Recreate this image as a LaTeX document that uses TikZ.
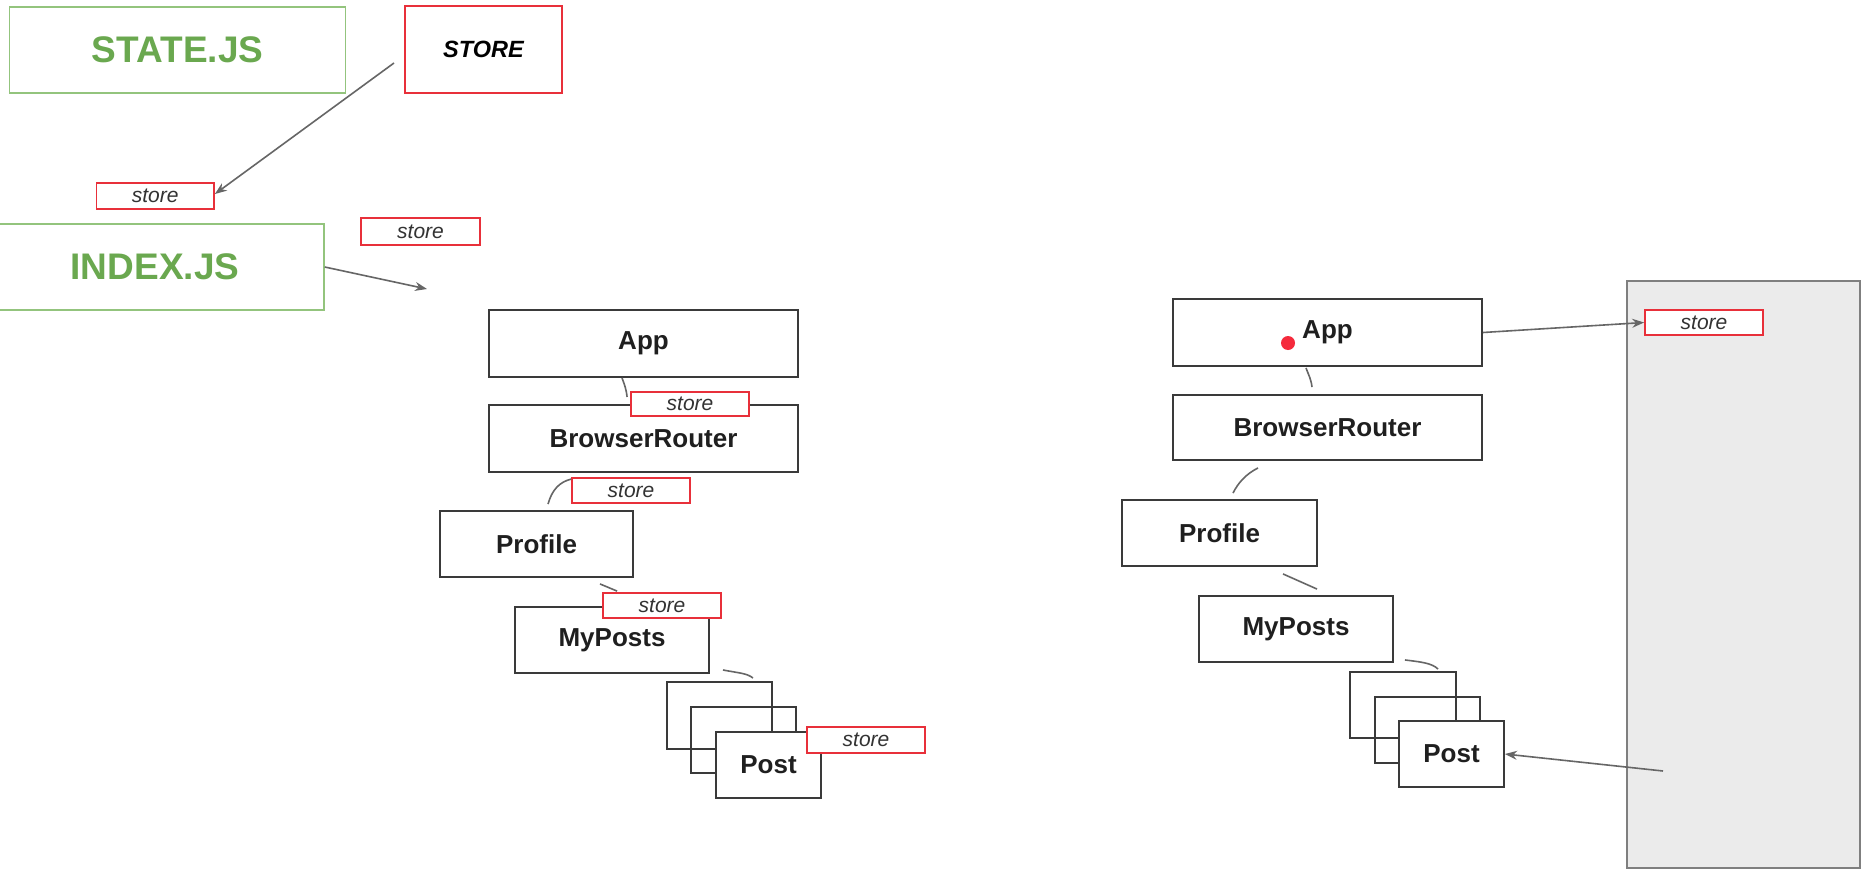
\documentclass[tikz,border=0pt]{standalone}
\usepackage{fontspec}
\setmainfont{Liberation Sans}
\usetikzlibrary{arrows.meta}
\definecolor{gtext}{HTML}{6AA84F}
\definecolor{gbord}{HTML}{93C47D}
\definecolor{rbord}{HTML}{E8303A}
\definecolor{dkline}{HTML}{3A3A3A}
\definecolor{cline}{HTML}{666666}
\definecolor{panel}{HTML}{EBEBEB}
\definecolor{pborder}{HTML}{7F7F7F}
\definecolor{dotred}{HTML}{F52A3C}
\tikzset{
  comp/.style={draw=dkline, line width=1.9pt, fill=white, inner sep=0pt,
    font=\fontsize{26}{30}\selectfont\bfseries, text=black!88},
  stackbox/.style={draw=dkline, line width=1.9pt, inner sep=0pt,
    minimum width=105pt, minimum height=66pt},
  storebox/.style={draw=rbord, line width=1.8pt, fill=white, inner sep=0pt,
    minimum width=118pt, minimum height=25pt,
    font=\fontsize{21}{24}\selectfont\itshape, text=black!80},
  jsbox/.style={draw=gbord, line width=1.5pt, inner sep=0pt, text=gtext,
    font=\fontsize{37}{42}\selectfont\bfseries},
  link/.style={draw=cline, line width=1.6pt},
  arr/.style={draw=cline, line width=1.6pt, -{Stealth[length=12pt,width=9pt]}}
}
\begin{document}
\begin{tikzpicture}[x=1pt,y=-1pt]
\useasboundingbox[fill=white] (0,0) rectangle (1870,889);

% ---------- top left ----------
\node[jsbox, minimum width=336pt, minimum height=86pt] (statejs) at (177.6,50) {STATE.JS};
\node[draw=rbord, line width=1.8pt, inner sep=0pt, minimum width=157pt, minimum height=87pt,
      font=\fontsize{23.5}{28}\selectfont\bfseries\itshape] (storebig) at (483.5,49.5) {STORE};
\node[storebox, minimum width=117.6pt, minimum height=26pt] (store1) at (155.2,196) {store};
\node[jsbox, minimum width=338pt, minimum height=86pt] (indexjs) at (155,267) {INDEX.JS};
\node[storebox, minimum width=119pt, minimum height=27pt] (store2) at (420.5,231.5) {store};

\coordinate (a1s) at (394,63);
\coordinate (a2e) at (427,289);
\draw[arr] (a1s) -- ([yshift=2pt]store1.east);
\draw[arr] (indexjs.east) -- (a2e);

% ---------- left tree ----------
\node[comp, minimum width=309pt, minimum height=67pt] (appL) at (643.5,343.5) {App};
\node[comp, minimum width=309pt, minimum height=67pt] (brL) at (643.5,438.5) {BrowserRouter};
\node[storebox, minimum height=24pt] (store3) at (690,404) {store};
\node[storebox] (store4) at (631,490.5) {store};
\node[comp, minimum width=193pt, minimum height=66pt] (profL) at (536.5,544) {Profile};
\node[comp, minimum width=194pt, minimum height=66pt] (mypL) at (612,640) {MyPosts};
\node[storebox] (store5) at (662,605.5) {store};
\node[stackbox, minimum height=67pt] (postL1) at (719.5,715.5) {};
\node[stackbox] (postL2) at (743.5,740) {};
\node[comp, minimum width=105pt, minimum height=66pt] (postL3) at (768.5,765) {Post};
\node[storebox, minimum height=26pt] (store6) at (866,740) {store};

\draw[link] ([xshift=-21.5pt]appL.south) .. controls +(3,8) and +(-1,-8) .. ([xshift=-3pt,yshift=7pt]store3.west);
\draw[link] ([xshift=11.5pt,yshift=6pt]profL.north) .. controls +(4,-14) and +(-12,3) .. ([yshift=-2pt]store4.north west);
\draw[link] ([xshift=63.5pt,yshift=-6pt]profL.south) -- ([xshift=15pt,yshift=1pt]store5.north west);
\draw[link] ([xshift=13pt,yshift=4pt]mypL.south east) .. controls +(15,3) and +(-6,-5) .. ([xshift=33.5pt,yshift=3pt]postL1.north);

% ---------- right tree ----------
\node[comp, minimum width=309pt, minimum height=67pt] (appR) at (1327.5,332.5) {App};
\fill[dotred] (1288,343) circle (7pt);
\node[comp, minimum width=309pt, minimum height=65pt] (brR) at (1327.5,427.5) {BrowserRouter};
\node[comp, minimum width=195pt, minimum height=66pt] (profR) at (1219.5,533) {Profile};
\node[comp, minimum width=194pt, minimum height=66pt] (mypR) at (1296,629) {MyPosts};
\node[stackbox, minimum width=106pt] (postR1) at (1403,705) {};
\node[stackbox] (postR2) at (1427.5,730) {};
\node[comp, minimum width=105pt, minimum height=66pt] (postR3) at (1451.5,754) {Post};

\draw[link] ([xshift=-21.5pt,yshift=-1pt]appR.south) .. controls +(3,8) and +(-1,-8) .. ([xshift=-15.5pt,yshift=7pt]brR.north);
\draw[link] ([xshift=-69.5pt,yshift=-7pt]brR.south) .. controls +(-12,6) and +(5,-10) .. ([xshift=13.5pt,yshift=6pt]profR.north);
\draw[link] ([xshift=63.5pt,yshift=-7pt]profR.south) -- ([xshift=21pt,yshift=6pt]mypR.north);
\draw[link] ([xshift=11pt,yshift=3pt]mypR.south east) .. controls +(16,2) and +(-6,-6) .. ([xshift=35pt,yshift=2pt]postR1.north);

% ---------- store panel ----------
\node[draw=pborder, fill=panel, line width=2pt, inner sep=0pt,
      minimum width=233pt, minimum height=587pt] (panelbox) at (1743.5,574.5) {};
\node[storebox] (store7) at (1704,322.5) {store};
\coordinate (pin) at (1663,771);
\draw[arr] (appR.east) -- (store7.west);
\draw[arr] (pin) -- (postR3.east);
\end{tikzpicture}
\end{document}
